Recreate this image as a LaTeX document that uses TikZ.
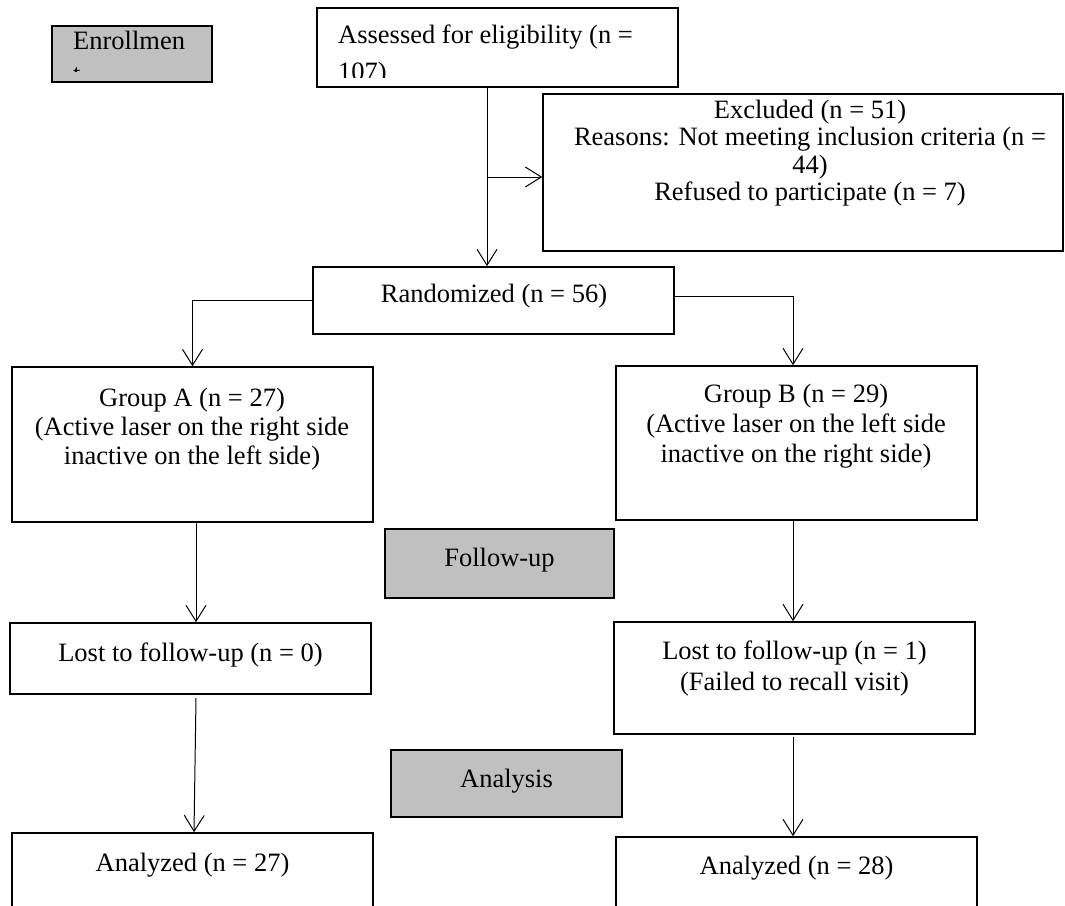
\documentclass[tikz,border=0pt]{standalone}
\usepackage{fontspec}
\setmainfont{Liberation Serif}
\usetikzlibrary{arrows.meta}
\definecolor{boxgray}{RGB}{192,192,192}
\begin{document}
\begin{tikzpicture}[x=1pt,y=-1pt,
  box/.style={draw,line width=1.6pt,inner sep=0pt,rectangle},
  graybox/.style={box,fill=boxgray},
  txt/.style={inner sep=0pt,anchor=base,font=\fontsize{26.5}{29}\selectfont},
  txtl/.style={txt,anchor=base west},
  conn/.style={line width=1pt,-{Straight Barb[length=16pt,width=20pt]}}]
\clip (0,0) rectangle (1065,905);
\fill[white] (0,0) rectangle (1065,905);
% boxes
\node[graybox,minimum width=160pt,minimum height=56pt] (enr) at (132,54) {};
\node[box,minimum width=361pt,minimum height=79pt] (assess) at (497.5,47.5) {};
\node[box,minimum width=520pt,minimum height=157pt] (excl) at (803,172.5) {};
\node[box,minimum width=361pt,minimum height=67pt] (rand) at (493.5,300.5) {};
\node[box,minimum width=361pt,minimum height=155pt] (gA) at (192.5,444.5) {};
\node[box,minimum width=361pt,minimum height=154pt] (gB) at (796.5,443) {};
\node[graybox,minimum width=229pt,minimum height=69pt] (fu) at (499.5,563.5) {};
\node[box,minimum width=361pt,minimum height=71pt] (lA) at (190.5,658.5) {};
\node[box,minimum width=361pt,minimum height=112pt] (lB) at (794.5,678) {};
\node[graybox,minimum width=231pt,minimum height=67pt] (an) at (506.5,783.5) {};
\node[box,minimum width=361pt,minimum height=77pt] (anA) at (192.5,871.5) {};
\node[box,minimum width=361pt,minimum height=75pt] (anB) at (796.5,874.5) {};
% texts
\node[txtl] (tEn1) at (73,49) {Enrollmen};
\begin{scope}
\clip (55,55) rectangle (209,71.5);
\node[txtl] (tEn2) at (73,82) {t};
\end{scope}
\node[txtl] (tAs1) at (338,43) {Assessed for eligibility (n =};
\begin{scope}
\clip (320,50) rectangle (675,77.5);
\node[txtl] (tAs2) at (338,80) {107)};
\end{scope}
\node[txt] (tEx1) at (810,118) {Excluded (n = 51)};
\node[txt] (tEx2) at (810,145.5) {Reasons: Not meeting inclusion criteria (n =};
\node[txt] (tEx3) at (810,173) {44)};
\node[txt] (tEx4) at (810,200.5) {Refused to participate (n = 7)};
\node[txt] (tRa) at (494,302) {Randomized (n = 56)};
\node[txt] (tGA1) at (192,406) {Group A (n = 27)};
\node[txt] (tGA2) at (192,435) {(Active laser on the right side};
\node[txt] (tGA3) at (192,464) {inactive on the left side)};
\node[txt] (tGB1) at (796,402) {Group B (n = 29)};
\node[txt] (tGB2) at (796,432) {(Active laser on the left side};
\node[txt] (tGB3) at (796,462) {inactive on the right side)};
\node[txt] (tFu) at (499.5,566) {Follow-up};
\node[txt] (tLA) at (190.5,661) {Lost to follow-up (n = 0)};
\node[txt] (tLB1) at (794.5,659) {Lost to follow-up (n = 1)};
\node[txt] (tLB2) at (794.5,690) {(Failed to recall visit)};
\node[txt] (tAn) at (506.5,787) {Analysis};
\node[txt] (tAA) at (192.5,871) {Analyzed (n = 27)};
\node[txt] (tAB) at (796.5,874) {Analyzed (n = 28)};
% connectors
\coordinate (vx) at (487,0);
\draw[conn] (assess.south -| vx) -- (rand.north -| vx);
\coordinate (split) at (487,177);
\draw[conn] (split) -- (split -| excl.west);
\draw[conn] (rand.west) -| (gA.north);
\coordinate (bs) at (793,296);
\draw[conn] (bs -| rand.east) -| (gB.north -| bs);
\coordinate (la) at (196,0);
\coordinate (la2) at (194,0);
\draw[conn] (gA.south -| la) -- (lA.north -| la);
\coordinate (ls) at (196,698);
\draw[conn] (ls) -- (anA.north -| la2);
\coordinate (rb) at (793,0);
\draw[conn] (gB.south -| rb) -- (lB.north -| rb);
\coordinate (rs) at (793,737);
\draw[conn] (rs) -- (anB.north -| rb);
\end{tikzpicture}
\end{document}
